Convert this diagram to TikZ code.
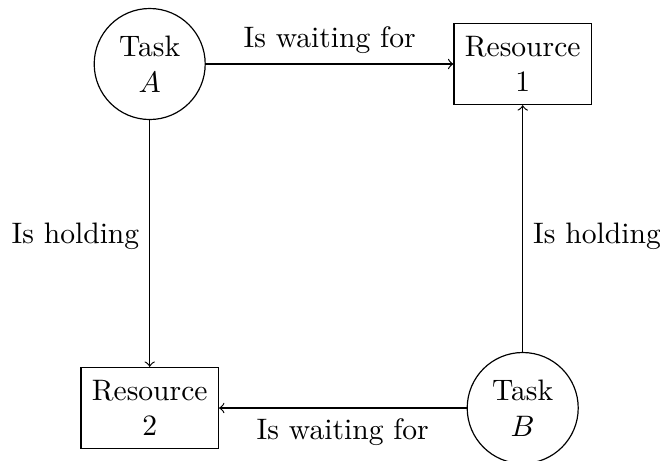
\documentclass[tikz,border=0pt]{standalone}
\usetikzlibrary{calc}
\begin{document}
\begin{tikzpicture}[x=0.3378pt,y=-0.3378pt,
  task/.style={circle,draw,align=center,inner sep=0pt,minimum size=37.5pt},
  res/.style={rectangle,draw,align=center,minimum width=46.4pt,minimum height=27.4pt},
  conn/.style={->}]
\useasboundingbox (0,0) rectangle (660,460);
\node[task] (A) at (149.7,64) {Task\\$A$};
\node[res] (R1) at (522.7,64) {Resource\\1};
\node[res] (R2) at (149.7,408) {Resource\\2};
\node[task] (B) at (522.7,408) {Task\\$B$};
\draw[conn] (A) -- node[above] (l1) {Is waiting for} (R1);
\draw[conn] (A) -- (R2);
\node[left] (l2) at ($(A)!0.5!(R2)$) {Is holding};
\draw[conn] (B) -- (R1);
\node[right] (l3) at ($(B)!0.5!(R1)$) {Is holding};
\draw[conn] (B) -- node[below] (l4) {Is waiting for} (R2);
\end{tikzpicture}
\end{document}
